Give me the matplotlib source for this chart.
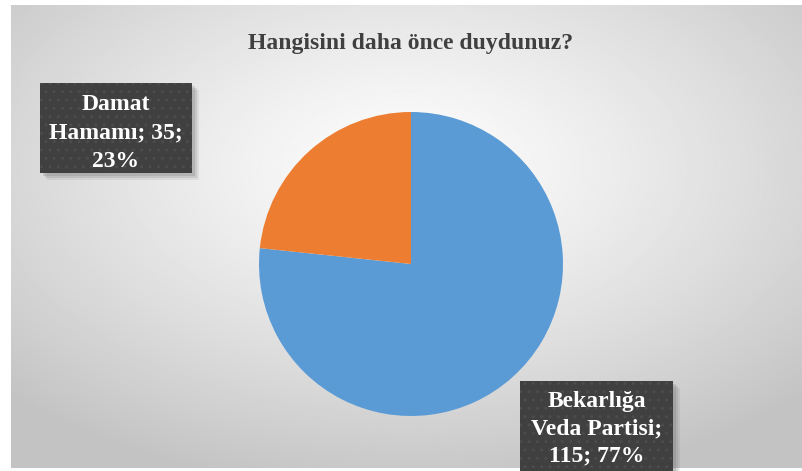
import numpy as np
import matplotlib.pyplot as plt
from matplotlib.patches import Rectangle

# Data
labels = ['Bekarlığa Veda Partisi', 'Damat Hamamı']
values = [115, 35]
colors = ['#5B9BD5', '#ED7D31']
title = 'Hangisini daha önce duydunuz?'

W, H = 802, 471
fig = plt.figure(figsize=(W / 100, H / 100), dpi=100)
fig.patch.set_facecolor('white')

# Background: radial gradient (white centre -> gray edges)
bg = fig.add_axes([11 / W, 3 / H, (W - 11) / W, (H - 8) / H])
yy, xx = np.mgrid[-1:1:300j, -1:1:500j]
r = np.sqrt(xx ** 2 + (yy + 0.3) ** 2) / np.sqrt(2)
shade = 0.995 - 0.23 * np.clip(r, 0, 1) ** 1.2
bg.imshow(shade, cmap='gray', vmin=0, vmax=1, aspect='auto', extent=[0, 1, 0, 1])
bg.set_axis_off()

# Pie
R = 152
cx, cy = 411, H - 264
ax = fig.add_axes([(cx - R) / W, (cy - R) / H, 2 * R / W, 2 * R / H])
ax.pie(values, colors=colors, startangle=90, counterclock=False,
       wedgeprops=dict(linewidth=0))
ax.set_xlim(-1, 1)
ax.set_ylim(-1, 1)
ax.set_aspect('equal')
ax.set_axis_off()

fig.text(411 / W, 1 - 43 / H, title, ha='center', va='center',
         fontsize=17, fontweight='bold', color='#404040',
         family='Liberation Serif')

# Data labels in dark boxes
total = sum(values)
def label_box(x0, y0, w, h, text, dy, ls):
    # y0 = top in pixels from top
    for k, a in [(7, 0.12), (5, 0.18), (3, 0.22)]:
        shadow = Rectangle((x0 + k, H - y0 - h - k), w, h, transform=None,
                           facecolor='#707070', alpha=a, edgecolor='none',
                           zorder=5)
        fig.patches.append(shadow)
    box = Rectangle((x0, H - y0 - h), w, h, transform=None,
                    facecolor='#404040', edgecolor='#4c4c4c', hatch='..',
                    linewidth=0, zorder=6)
    fig.patches.append(box)
    fig.text((x0 + w / 2) / W, 1 - (y0 + dy) / H, text, ha='center',
             va='center', fontsize=17, fontweight='bold', color='white',
             family='Liberation Serif', linespacing=ls, zorder=7)

pcts = [round(v * 100 / total) for v in values]
label_box(40, 83, 152, 90, 'Damat\nHamamı; %d;\n%d%%' % (values[1], pcts[1]), 50, 1.45)
label_box(520, 381, 153, 95, 'Bekarlığa\nVeda Partisi;\n%d; %d%%' % (values[0], pcts[0]), 48, 1.4)

fig.savefig('out.png', dpi=100)
